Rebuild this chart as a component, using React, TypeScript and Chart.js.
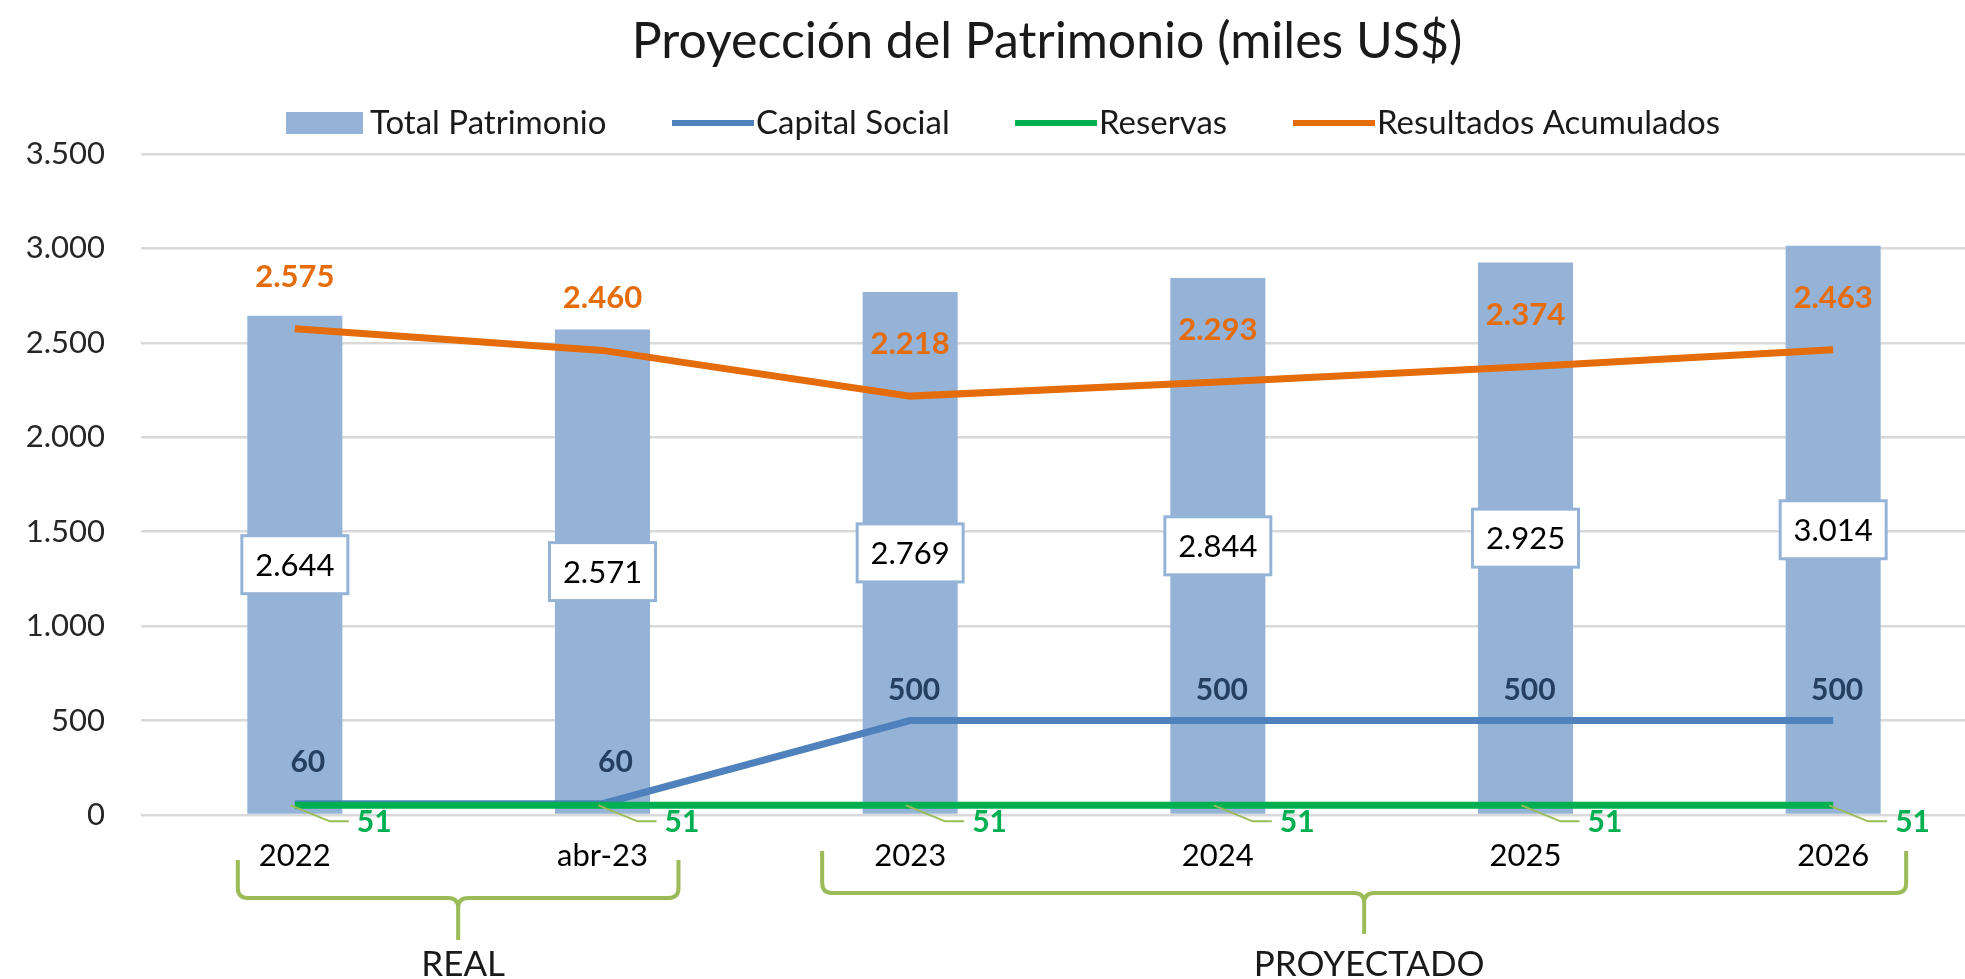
import React, { useEffect, useRef } from 'react';
import { Chart, registerables } from 'chart.js';

Chart.register(...registerables);

const categories = ['2022', 'abr-23', '2023', '2024', '2025', '2026'];
const totalPatrimonio = [2644, 2571, 2769, 2844, 2925, 3014];
const capitalSocial = [60, 60, 500, 500, 500, 500];
const reservas = [51, 51, 51, 51, 51, 51];
const resultadosAcumulados = [2575, 2460, 2218, 2293, 2374, 2463];
const yTickValues = [0, 500, 1000, 1500, 2000, 2500, 3000, 3500];
const seriesNames = ['Total Patrimonio', 'Capital Social', 'Reservas', 'Resultados Acumulados'];
const periodGroups = [
  { label: 'REAL', from: 0, to: 1 },
  { label: 'PROYECTADO', from: 2, to: 5 },
];
const chartTitle = 'Proyección del Patrimonio (miles US$)';

const FONT = 'Lato, "Noto Sans", sans-serif';
const C_BAR = '#95B3D7';
const C_CAP = '#4F81BD';
const C_RES = '#00B050';
const C_ACC = '#E46C0A';
const C_LEAD = '#9BBB59';
const C_CAPLBL = '#243F60';

const fmt = (v: number) => Math.round(v).toString().replace(/\B(?=(\d{3})+(?!\d))/g, '.');

const overlay = {
  id: 'overlay',
  afterDatasetsDraw(chart: any) {
    const ctx = chart.ctx as CanvasRenderingContext2D;
    ctx.save();
    // Total boxes
    const barMeta = chart.getDatasetMeta(0);
    barMeta.data.forEach((el: any, i: number) => {
      const cx = el.x;
      const cy = (el.y + el.base) / 2;
      const w = 106, h = 58;
      ctx.fillStyle = '#ffffff';
      ctx.fillRect(cx - w / 2, cy - h / 2, w, h);
      ctx.strokeStyle = C_BAR;
      ctx.lineWidth = 3;
      ctx.strokeRect(cx - w / 2, cy - h / 2, w, h);
      ctx.fillStyle = '#000000';
      ctx.font = `31px ${FONT}`;
      ctx.textAlign = 'center';
      ctx.textBaseline = 'middle';
      ctx.fillText(fmt(totalPatrimonio[i]), cx, cy + 1);
    });
    // Capital social labels
    const capMeta = chart.getDatasetMeta(1);
    capMeta.data.forEach((el: any, i: number) => {
      const small = capitalSocial[i] < 200;
      const dx = small ? 13 : 4;
      const dy = small ? -41 : -30;
      ctx.fillStyle = C_CAPLBL;
      ctx.font = `bold 30px ${FONT}`;
      ctx.textAlign = 'center';
      ctx.textBaseline = 'middle';
      ctx.fillText(fmt(capitalSocial[i]), el.x + dx, el.y + dy);
    });
    // Resultados labels
    const accMeta = chart.getDatasetMeta(3);
    accMeta.data.forEach((el: any, i: number) => {
      ctx.fillStyle = C_ACC;
      ctx.font = `bold 31px ${FONT}`;
      ctx.textAlign = 'center';
      ctx.textBaseline = 'middle';
      ctx.fillText(fmt(resultadosAcumulados[i]), el.x, el.y - 52);
    });
    // Reservas labels with leader lines
    const resMeta = chart.getDatasetMeta(2);
    resMeta.data.forEach((el: any, i: number) => {
      ctx.strokeStyle = C_LEAD;
      ctx.lineWidth = 2;
      ctx.beginPath();
      ctx.moveTo(el.x - 4, el.y);
      ctx.lineTo(el.x + 35, el.y + 16);
      ctx.lineTo(el.x + 54, el.y + 16);
      ctx.stroke();
      ctx.fillStyle = C_RES;
      ctx.font = `bold 30px ${FONT}`;
      ctx.textAlign = 'left';
      ctx.textBaseline = 'middle';
      ctx.fillText(fmt(reservas[i]), el.x + 62, el.y + 17);
    });
    ctx.restore();
  },
  afterDraw(chart: any) {
    const ctx = chart.ctx as CanvasRenderingContext2D;
    const xs = chart.scales.x;
    ctx.save();
    // Title
    ctx.fillStyle = '#1a1a1a';
    ctx.font = `50px ${FONT}`;
    ctx.textAlign = 'center';
    ctx.textBaseline = 'alphabetic';
    ctx.fillText(chartTitle, 1047, 58);

    // Legend
    const legendY = 123;
    const items = [
      { x: 286, type: 'box', color: C_BAR },
      { x: 672, type: 'line', color: C_CAP },
      { x: 1015, type: 'line', color: C_RES },
      { x: 1293, type: 'line', color: C_ACC },
    ];
    ctx.font = `33px ${FONT}`;
    ctx.textAlign = 'left';
    ctx.textBaseline = 'middle';
    items.forEach((it, i) => {
      ctx.fillStyle = it.color;
      if (it.type === 'box') {
        ctx.fillRect(it.x, legendY - 11, 77, 22);
      } else {
        ctx.fillRect(it.x, legendY - 3, 82, 6);
      }
      ctx.fillStyle = '#1a1a1a';
      ctx.fillText(seriesNames[i], it.x + 84, legendY);
    });

    // Brackets
    const geo = [
      { l: -57, r: 76, top: 860, hy: 898, tip: 940 },
      { l: -88, r: 73, top: 851, hy: 893, tip: 934 },
    ];
    periodGroups.forEach((g, gi) => {
      const gg = geo[gi];
      const L = xs.getPixelForValue(g.from) + gg.l;
      const R = xs.getPixelForValue(g.to) + gg.r;
      const M = (L + R) / 2;
      const r = 10;
      ctx.strokeStyle = C_LEAD;
      ctx.lineWidth = 4;
      ctx.lineJoin = 'round';
      ctx.beginPath();
      ctx.moveTo(L, gg.top);
      ctx.lineTo(L, gg.hy - r);
      ctx.quadraticCurveTo(L, gg.hy, L + r, gg.hy);
      ctx.lineTo(M - r, gg.hy);
      ctx.quadraticCurveTo(M, gg.hy, M, gg.hy + r);
      ctx.lineTo(M, gg.tip);
      ctx.moveTo(M, gg.hy + r);
      ctx.quadraticCurveTo(M, gg.hy, M + r, gg.hy);
      ctx.lineTo(R - r, gg.hy);
      ctx.quadraticCurveTo(R, gg.hy, R, gg.hy - r);
      ctx.lineTo(R, gg.top);
      ctx.stroke();
      ctx.fillStyle = '#1a1a1a';
      ctx.font = `35px ${FONT}`;
      ctx.textAlign = 'center';
      ctx.textBaseline = 'alphabetic';
      ctx.fillText(g.label, M + 5, 976);
    });
    ctx.restore();
  },
};

export default function App() {
  const ref = useRef<HTMLCanvasElement | null>(null);
  useEffect(() => {
    const canvas = ref.current;
    if (!canvas) return;
    const chart = new Chart(canvas, {
      type: 'bar',
      data: {
        labels: categories,
        datasets: [
          {
            type: 'bar',
            label: seriesNames[0],
            data: totalPatrimonio,
            backgroundColor: C_BAR,
            barPercentage: 0.309,
            categoryPercentage: 1,
            order: 10,
          },
          {
            type: 'line',
            label: seriesNames[1],
            data: capitalSocial,
            borderColor: C_CAP,
            backgroundColor: C_CAP,
            borderWidth: 7,
            pointRadius: 0,
            tension: 0,
            borderCapStyle: 'butt',
            order: 3,
          },
          {
            type: 'line',
            label: seriesNames[2],
            data: reservas,
            borderColor: C_RES,
            backgroundColor: C_RES,
            borderWidth: 7,
            pointRadius: 0,
            tension: 0,
            borderCapStyle: 'butt',
            order: 1,
          },
          {
            type: 'line',
            label: seriesNames[3],
            data: resultadosAcumulados,
            borderColor: C_ACC,
            backgroundColor: C_ACC,
            borderWidth: 7,
            pointRadius: 0,
            tension: 0,
            borderCapStyle: 'butt',
            order: 2,
          },
        ],
      } as any,
      options: {
        responsive: false,
        devicePixelRatio: 1,
        animation: false,
        layout: { padding: { top: 154, right: 113, left: 0, bottom: 0 } },
        plugins: {
          legend: { display: false },
          title: { display: false },
          tooltip: { enabled: false },
        },
        scales: {
          x: {
            type: 'category',
            offset: true,
            grid: { display: false, drawTicks: false },
            border: { display: false },
            ticks: {
              color: '#000000',
              font: { family: FONT, size: 31 },
              padding: 22,
              maxRotation: 0,
            },
            afterFit: (s: any) => { s.height = 164; },
          },
          y: {
            min: 0,
            max: 3500,
            afterBuildTicks: (s: any) => { s.ticks = yTickValues.map((v) => ({ value: v })); },
            grid: { color: '#D9D9D9', lineWidth: 2.5, drawTicks: false },
            border: { display: false },
            ticks: {
              color: '#262626',
              font: { family: FONT, size: 31 },
              padding: 36,
              callback: (v: any) => fmt(Number(v)),
            },
            afterFit: (s: any) => { s.width = 141; },
          },
        },
      } as any,
      plugins: [overlay],
    });
    return () => chart.destroy();
  }, []);
  return (
    <div style={{ position: 'absolute', left: 0, top: 0, width: 1965, height: 979, overflow: 'hidden', background: '#fff' }}>
      <canvas ref={ref} width={2100} height={979} style={{ display: 'block' }} />
    </div>
  );
}
